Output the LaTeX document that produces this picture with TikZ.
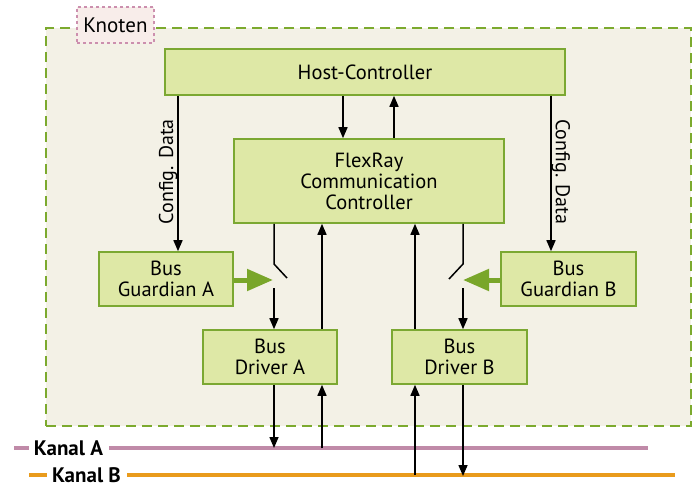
\documentclass[tikz,border=0pt]{standalone}
\usepackage{fontspec}
\setmainfont{PT Sans}
\usetikzlibrary{arrows.meta}

\definecolor{boxfill}{HTML}{DEE8A6}
\definecolor{boxline}{HTML}{7BA832}
\definecolor{nodefill}{HTML}{F3F1E6}
\definecolor{nodeline}{HTML}{7CAA2E}
\definecolor{tagline}{HTML}{CC8FAE}
\definecolor{tagfill}{HTML}{F8EDEA}
\definecolor{guardgreen}{HTML}{79A62A}
\definecolor{kanalA}{HTML}{C08AA8}
\definecolor{kanalB}{HTML}{E99B1C}

\tikzset{
  block/.style={draw=boxline, fill=boxfill, line width=1.6pt, align=center,
    font=\fontsize{20.5}{21}\selectfont, inner sep=0pt},
  arr/.style={line width=1.5pt, -{Triangle[length=11pt,width=9pt]}},
  wire/.style={line width=1.5pt},
  garr/.style={guardgreen, line width=5pt, -{Triangle[length=26pt,width=21pt]}},
  lbl/.style={font=\fontsize{20}{21}\selectfont, inner sep=0pt},
  kanal/.style={font=\bfseries\fontsize{21}{22}\selectfont, inner sep=0pt},
}

\begin{document}
\begin{tikzpicture}[x=1pt,y=-1pt]
\useasboundingbox (0,0) rectangle (698,482);

% node frame
\node[draw=nodeline, fill=nodefill, dash pattern=on 10pt off 6pt, line width=2.8pt,
  minimum width=645pt, minimum height=398pt, inner sep=0pt] (knoten) at (368.5,227) {};
\node[draw=tagline, fill=tagfill, dashed, line width=1.3pt, minimum width=77pt,
  minimum height=36pt, inner sep=0pt, font=\fontsize{21}{22}\selectfont] (tag) at (115.5,25) {Knoten};

% blocks
\node[block, minimum width=400pt, minimum height=46pt] (host) at (365,72) {Host-Controller};
\node[block, minimum width=270pt, minimum height=84pt] (cc) at (369,181) {FlexRay\\Communication\\Controller};
\node[block, minimum width=134pt, minimum height=54pt] (bga) at (166,279) {Bus\\Guardian A};
\node[block, minimum width=135pt, minimum height=54pt] (bgb) at (568.5,279) {Bus\\Guardian B};
\node[block, minimum width=134pt, minimum height=54pt] (bda) at (270,357) {Bus\\Driver A};
\node[block, minimum width=135pt, minimum height=54pt] (bdb) at (459.5,357) {Bus\\Driver B};

% channels
\node[kanal] (ka) at (68.5,448) {Kanal A};
\node[kanal] (kb) at (86.5,475) {Kanal B};
\coordinate (kaL) at (14,448);
\coordinate (kaR) at (648,448);
\coordinate (kbL) at (29,475);
\coordinate (kbR) at (675,475);
\draw[kanalA, line width=4pt] (kaL) -- ([xshift=-5pt]ka.west);
\draw[kanalA, line width=4pt] ([xshift=6pt]ka.east) -- (kaR);
\draw[kanalB, line width=4pt] (kbL) -- ([xshift=-5pt]kb.west);
\draw[kanalB, line width=4pt] ([xshift=6pt]kb.east) -- (kbR);

% x positions of the vertical links
\coordinate (xh1) at (343,0);
\coordinate (xh2) at (394,0);
\coordinate (xcl) at (178,0);
\coordinate (xcr) at (551,0);
\coordinate (xa1) at (274,0);
\coordinate (xa2) at (322,0);
\coordinate (xb1) at (415,0);
\coordinate (xb2) at (463,0);

% host <-> communication controller
\draw[arr] (xh1 |- host.south) -- (xh1 |- cc.north);
\draw[arr] (xh2 |- cc.north) -- (xh2 |- host.south);

% configuration data
\draw[arr] (xcl |- host.south) -- node[pos=0.45, lbl, rotate=90, left=6pt, anchor=south] {Config. Data} (xcl |- bga.north);
\draw[arr] (xcr |- host.south) -- node[pos=0.45, lbl, rotate=-90, right=6pt, anchor=south] {Config. Data} (xcr |- bgb.north);

% switch A
\coordinate (swA1) at (274,264);
\coordinate (swA2) at (287,278);
\coordinate (swA3) at (274,288);
\draw[wire] (xa1 |- cc.south) -- (swA1) -- (swA2);
\draw[arr] (swA3) -- (xa1 |- bda.north);
\coordinate (tipA) at (273,280);
\draw[garr] (bga.east |- tipA) -- (tipA);

% switch B
\coordinate (swB1) at (463,264);
\coordinate (swB2) at (449,279);
\coordinate (swB3) at (463,288);
\draw[wire] (xb2 |- cc.south) -- (swB1) -- (swB2);
\draw[arr] (swB3) -- (xb2 |- bdb.north);
\coordinate (tipB) at (463,280);
\draw[garr] (bgb.west |- tipB) -- (tipB);

% drivers -> controller
\draw[arr] (xa2 |- bda.north) -- (xa2 |- cc.south);
\draw[arr] (xb1 |- bdb.north) -- (xb1 |- cc.south);

% drivers <-> channels
\draw[arr] (xa1 |- bda.south) -- (xa1 |- kaL);
\draw[arr] (xa2 |- kaL) -- (xa2 |- bda.south);
\draw[arr] (xb2 |- bdb.south) -- ([yshift=-1pt]xb2 |- kbL);
\draw[arr] (xb1 |- kbL) -- (xb1 |- bdb.south);
\end{tikzpicture}
\end{document}
